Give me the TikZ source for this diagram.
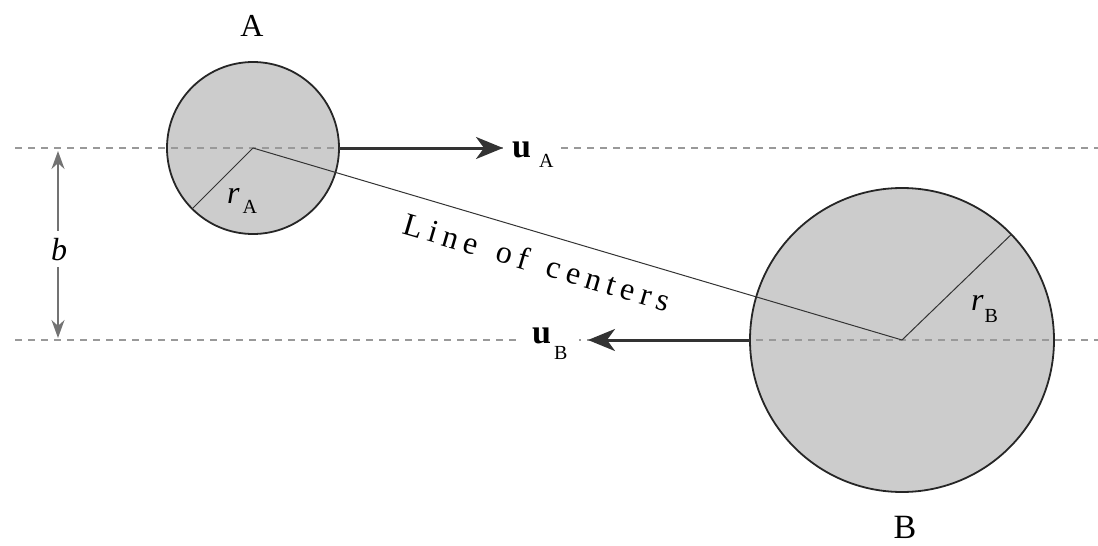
\documentclass[tikz,border=0pt]{standalone}
\usepackage{fontspec}
\setmainfont{Liberation Serif}
\usetikzlibrary{arrows.meta}
\newcommand{\fs}[1]{\fontsize{#1}{#1}\selectfont}
\newcommand{\lowsub}[2]{\raisebox{-#1}{\fs{20}#2}}
\newcommand{\ls}{\kern6pt}
\begin{document}
\begin{tikzpicture}[x=1pt,y=-1pt,
  ball/.style={circle, draw=black!85, line width=1.8pt, fill=black!20, inner sep=0pt, outer sep=0pt},
  guide/.style={draw=black!40, line width=1.4pt, dash pattern=on 7pt off 6pt},
  vel/.style={draw=black!80, line width=3pt, -{Stealth[length=27pt,width=22pt,inset=8pt]}},
  thinline/.style={draw=black!80, line width=1pt},
  dimtip/.tip={Stealth[length=18pt,width=13pt]},
  dim/.style={draw=black!55, line width=1.4pt, dimtip-dimtip},
  lbl/.style={inner sep=0pt, font=\fs{32}},
]
\useasboundingbox (0,0) rectangle (1098,546);
% balls
\node[ball, minimum size=172pt] (A) at (253,148) {};
\node[ball, minimum size=304pt] (B) at (902,340) {};
% guide lines
\coordinate (L1) at (15,148);
\coordinate (R1) at (1098,148);
\coordinate (L2) at (15,340);
\coordinate (R2) at (1098,340);
\draw[guide] (L1) -- (R1);
\draw[guide] (L2) -- (R2);
% line of centers and radii
\draw[thinline] (A.center) -- (B.center);
\draw[thinline] (A.center) -- (A.225);
\draw[thinline] (B.center) -- (B.44);
% labels
\node[lbl, anchor=base] (labA) at (252,36) {A};
\node[lbl, anchor=base, font=\fs{34}] (labB) at (905,538) {B};
\node[lbl, anchor=base west] (rA) at (227,203) {\itshape r\kern3pt\upshape\lowsub{10pt}{A}};
\node[lbl, anchor=base west] (rB) at (971,310) {\itshape r\kern1pt\upshape\lowsub{12pt}{B}};
\node[lbl, rotate=-16.46, font=\fs{32}] (loc) at (537,262)
  {L\ls i\ls n\ls e\ls\ \ls o\ls f\ls\ \ls c\ls e\ls n\ls t\ls e\ls r\ls s};
% velocities
\node[lbl, anchor=base west, fill=white, inner sep=3pt] (uA) at (509,157)
  {\fs{34}\textbf{u}\kern8pt\lowsub{10pt}{A}};
\coordinate (tipA) at (503,148);
\draw[vel] (A.east) -- (tipA);
\node[lbl, anchor=base west, fill=white, inner xsep=12pt, inner ysep=3pt] (uB) at (520,343)
  {\fs{34}\textbf{u}\kern3pt\lowsub{16pt}{B}};
\coordinate (tipB) at (588,340);
\draw[vel] (B.west) -- (tipB);
% impact parameter
\coordinate (bTop) at (58,151);
\coordinate (bBot) at (58,338);
\draw[dim] (bTop) -- (bBot);
\node[lbl, anchor=base, fill=white, inner xsep=3pt, inner ysep=7pt] (bl) at (59,260) {\itshape b};
\end{tikzpicture}
\end{document}
